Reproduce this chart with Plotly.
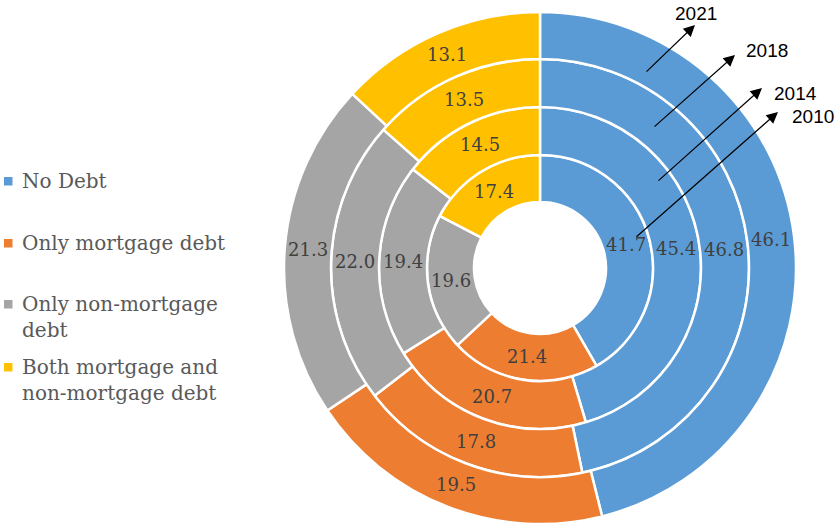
import math
import plotly.graph_objects as go

# ---- data ----
categories = ["No Debt", "Only mortgage debt", "Only non-mortgage debt",
              "Both mortgage and non-mortgage debt"]
legend_text = ["No Debt", "Only mortgage debt", "Only non-mortgage<br>debt",
               "Both mortgage and<br>non-mortgage debt"]
years = ["2010", "2014", "2018", "2021"]
values_2010 = [41.7, 21.4, 19.6, 17.4]
values_2014 = [45.4, 20.7, 19.4, 14.5]
values_2018 = [46.8, 17.8, 22.0, 13.5]
values_2021 = [46.1, 19.5, 21.3, 13.1]
series = [values_2010, values_2014, values_2018, values_2021]
colors = ["#5B9BD5", "#ED7D31", "#A5A5A5", "#FFC000"]

# ---- geometry (pixels) ----
W, H = 839, 525
cx, cy = 540, 268
ring_inner = [66, 113, 161, 209]
ring_outer = [113, 161, 209, 256]

def px(x):
    return x / W

def py(y):
    return 1 - y / H

fig = go.Figure()
annotations = []
for yr, vals, r_in, r_out in zip(years, series, ring_inner, ring_outer):
    fig.add_trace(go.Pie(
        labels=categories, values=vals, name=yr,
        sort=False, direction="clockwise", rotation=0,
        hole=r_in / r_out,
        domain=dict(x=[px(cx - r_out), px(cx + r_out)],
                    y=[py(cy + r_out), py(cy - r_out)]),
        marker=dict(colors=colors, line=dict(color="white", width=2.5)),
        textinfo="none",
        hoverinfo="label+value+name", showlegend=False,
    ))
    # data labels at the middle of each slice (Excel style)
    total = sum(vals)
    cum = 0.0
    r_mid = (r_in + r_out) / 2
    for v in vals:
        theta = 2 * math.pi * (cum + v / 2) / total
        cum += v
        lx = cx + r_mid * math.sin(theta)
        ly = cy - r_mid * math.cos(theta)
        annotations.append(dict(
            x=px(lx), y=py(ly), xref="paper", yref="paper",
            text=f"{v:.1f}", showarrow=False, xanchor="center", yanchor="middle",
            font=dict(family="DejaVu Serif", size=18, color="#404040")))

# year labels with arrows (tail pixel, head pixel, label centre pixel)
arrow_tail = [(635, 238), (657, 182), (653, 128), (645, 73)]
arrow_head = [(778, 112), (762, 88), (735, 55), (695, 25)]
label_pos = [(813, 116), (795, 93), (767, 50), (696, 13)]

for yr, (tx, ty), (hx, hy), (lx, ly) in zip(years, arrow_tail, arrow_head, label_pos):
    annotations.append(dict(
        x=px(hx), y=py(hy), xref="paper", yref="paper",
        ax=tx - hx, ay=ty - hy, axref="pixel", ayref="pixel",
        text="", showarrow=True, arrowhead=2, arrowsize=1.9,
        arrowwidth=1.2, arrowcolor="#000000"))
    annotations.append(dict(
        x=px(lx), y=py(ly), xref="paper", yref="paper",
        text=yr, showarrow=False, xanchor="center", yanchor="middle",
        font=dict(family="Liberation Sans", size=19, color="#000000")))

# legend (manual, to reproduce spacing)
legend_y = [181, 243, 304, 367]
shapes = []
for txt, col, ly in zip(legend_text, colors, legend_y):
    shapes.append(dict(type="rect", xref="paper", yref="paper",
                       x0=px(4), x1=px(12.5), y0=py(ly + 4.5), y1=py(ly - 4),
                       fillcolor=col, line=dict(width=0)))
    annotations.append(dict(
        x=px(20), y=py(ly - 14), xref="paper", yref="paper",
        text=txt, showarrow=False, xanchor="left", yanchor="top", align="left",
        font=dict(family="DejaVu Serif", size=20, color="#595959")))

fig.update_layout(
    width=W, height=H, margin=dict(l=0, r=0, t=0, b=0),
    paper_bgcolor="white", plot_bgcolor="white",
    showlegend=False, annotations=annotations, shapes=shapes,
)

fig.write_html("out.html", config={"displayModeBar": False},
               post_script="document.body.style.margin='0';"
                           "document.body.style.overflow='hidden';")
